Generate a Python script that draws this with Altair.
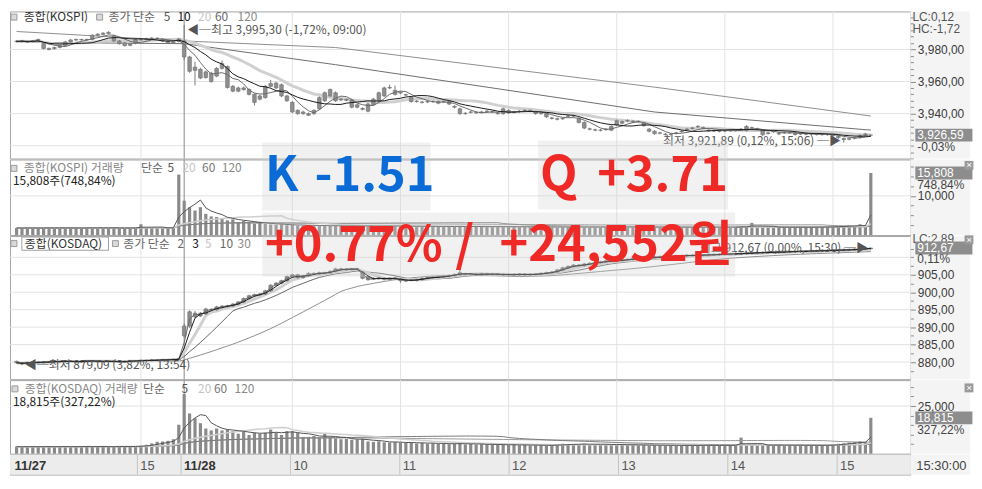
import altair as alt
import pandas as pd

# ------------------------------------------------------------------ data
# bar index: 0 = 11/27 13:51 (3-minute bars), 31 = 11/28 09:00, 158 = 11/28 15:30
tick_idx = [0, 23, 31, 51, 71, 91, 111, 131, 151]
tick_labels = ["11/27", "15", "11/28", "10", "11", "12", "13", "14", "15"]

kospi_open = [
    3985.2, 3985.0, 3984.6, 3985.0, 3985.4, 3983.6, 3980.6, 3980.5, 3981.3, 3982.5,
    3984.7, 3985.9, 3986.0, 3986.2, 3986.3, 3988.8, 3989.4, 3990.0, 3988.3, 3985.3,
    3984.1, 3982.6, 3983.8, 3986.0, 3986.2, 3986.6, 3987.0, 3986.4, 3985.2, 3984.2,
    3985.0, 3985.3, 3975.3, 3967.0, 3967.6, 3962.5, 3965.2, 3963.4, 3968.2, 3969.3,
    3957.0, 3954.0, 3956.0, 3955.0, 3952.0, 3949.0, 3950.0, 3957.0, 3959.0, 3958.0,
    3951.0, 3947.0, 3942.0, 3940.0, 3940.0, 3940.0, 3943.0, 3948.0, 3951.0, 3953.0,
    3949.0, 3948.8, 3948.5, 3945.5, 3943.2, 3941.5, 3945.5, 3948.0, 3951.0, 3956.0,
    3954.5, 3953.2, 3951.8, 3950.0, 3947.8, 3947.2, 3947.3, 3947.6, 3947.5, 3947.3,
    3947.5, 3944.5, 3943.0, 3940.2, 3940.8, 3940.7, 3940.8, 3941.3, 3941.2, 3940.3,
    3940.0, 3942.0, 3940.8, 3941.3, 3941.8, 3942.0, 3941.0, 3940.2, 3940.0, 3937.3,
    3936.8, 3936.8, 3938.3, 3938.6, 3937.0, 3934.5, 3930.5, 3929.9, 3929.6, 3930.0,
    3929.7, 3933.0, 3935.0, 3935.4, 3935.2, 3935.1, 3934.0, 3930.3, 3929.0, 3927.8,
    3927.2, 3927.1, 3927.8, 3928.8, 3930.0, 3930.8, 3931.8, 3931.2, 3929.6, 3929.2,
    3929.2, 3929.1, 3929.4, 3929.6, 3930.0, 3929.5, 3931.2, 3930.5, 3929.7, 3927.6,
    3928.7, 3927.5, 3928.2, 3928.1, 3928.0, 3927.4, 3927.2, 3927.4, 3927.1, 3927.1,
    3926.9, 3926.6, 3925.8, 3924.5, 3924.0, 3924.6, 3925.2, 3926.5, 3926.59]
kospi_close = [
    3985.0, 3985.3, 3984.7, 3985.3, 3986.2, 3980.6, 3980.0, 3981.2, 3982.4, 3984.7,
    3985.9, 3986.2, 3986.2, 3986.0, 3988.9, 3989.5, 3990.1, 3990.7, 3985.3, 3983.6,
    3982.4, 3983.6, 3986.2, 3986.2, 3986.8, 3987.1, 3986.8, 3985.3, 3984.1, 3984.7,
    3986.5, 3975.3, 3966.4, 3969.0, 3962.2, 3966.0, 3960.0, 3968.2, 3971.1, 3956.3,
    3954.0, 3956.0, 3955.0, 3952.0, 3947.0, 3951.0, 3957.0, 3958.7, 3956.0, 3951.0,
    3948.0, 3941.0, 3940.0, 3941.0, 3939.0, 3942.0, 3950.0, 3953.0, 3955.0, 3948.0,
    3948.5, 3948.4, 3944.0, 3944.0, 3942.7, 3946.0, 3949.0, 3953.0, 3956.0, 3956.3,
    3952.0, 3952.8, 3951.6, 3947.5, 3947.5, 3947.0, 3947.5, 3947.5, 3946.5, 3947.5,
    3946.0, 3944.0, 3940.0, 3940.0, 3941.0, 3940.5, 3941.0, 3941.5, 3941.0, 3940.0,
    3943.0, 3940.5, 3941.0, 3941.5, 3942.0, 3941.5, 3940.0, 3940.0, 3938.0, 3937.0,
    3936.5, 3937.0, 3938.5, 3938.5, 3934.5, 3931.0, 3930.3, 3929.7, 3929.7, 3930.3,
    3932.0, 3935.5, 3934.0, 3935.6, 3935.0, 3935.0, 3932.5, 3929.0, 3927.5, 3928.0,
    3927.0, 3927.0, 3928.0, 3929.0, 3930.3, 3931.0, 3932.0, 3931.0, 3929.3, 3929.3,
    3929.0, 3929.3, 3929.5, 3929.5, 3930.3, 3932.0, 3931.0, 3930.3, 3926.8, 3928.0,
    3929.0, 3927.3, 3928.3, 3928.0, 3927.0, 3927.3, 3927.3, 3927.3, 3927.0, 3926.9,
    3927.0, 3926.3, 3925.0, 3923.8, 3924.4, 3925.0, 3926.3, 3927.3, 3926.59]
kospi_high = [
    3985.8, 3985.9, 3985.4, 3985.9, 3986.8, 3984.4, 3981.2, 3981.8, 3983.0, 3985.3,
    3986.5, 3986.8, 3986.7, 3986.8, 3989.4, 3990.1, 3990.8, 3991.3, 3988.9, 3985.9,
    3984.7, 3984.2, 3986.8, 3986.9, 3987.3, 3987.7, 3987.6, 3987.0, 3985.8, 3985.3,
    3987.1, 3995.3, 3976.0, 3972.3, 3968.5, 3966.8, 3966.0, 3969.0, 3973.0, 3970.0,
    3957.8, 3956.8, 3956.9, 3955.8, 3952.7, 3951.8, 3957.8, 3961.0, 3959.8, 3958.8,
    3951.7, 3947.8, 3942.7, 3941.8, 3940.7, 3942.8, 3950.8, 3953.8, 3955.7, 3953.8,
    3949.7, 3949.5, 3949.2, 3946.2, 3943.9, 3946.8, 3949.7, 3953.7, 3956.8, 3958.0,
    3957.5, 3953.9, 3952.4, 3950.7, 3948.5, 3947.9, 3948.2, 3948.3, 3948.2, 3948.2,
    3948.1, 3945.2, 3943.7, 3940.9, 3941.7, 3941.4, 3941.7, 3942.2, 3941.9, 3941.0,
    3943.7, 3942.7, 3941.7, 3942.2, 3942.7, 3942.6, 3941.7, 3940.9, 3940.7, 3938.0,
    3937.5, 3937.7, 3939.2, 3939.3, 3937.7, 3935.2, 3931.2, 3930.6, 3930.4, 3931.0,
    3932.7, 3936.3, 3935.7, 3936.4, 3935.9, 3935.8, 3934.7, 3931.0, 3929.7, 3928.7,
    3927.9, 3927.8, 3928.7, 3929.7, 3931.0, 3931.7, 3932.8, 3931.9, 3930.3, 3930.0,
    3929.9, 3930.0, 3930.2, 3930.3, 3931.0, 3932.8, 3931.9, 3931.2, 3930.4, 3928.7,
    3929.7, 3928.2, 3929.0, 3928.8, 3928.7, 3928.1, 3928.0, 3928.1, 3927.8, 3927.8,
    3927.7, 3927.3, 3926.5, 3925.2, 3925.1, 3925.7, 3927.0, 3928.0, 3926.8]
kospi_low = [
    3984.4, 3984.4, 3984.0, 3984.4, 3984.8, 3979.9, 3979.4, 3979.9, 3980.7, 3981.9,
    3984.1, 3985.3, 3985.4, 3985.4, 3985.7, 3988.2, 3988.8, 3989.4, 3984.6, 3983.0,
    3981.8, 3982.0, 3983.2, 3985.4, 3985.6, 3986.0, 3986.2, 3984.7, 3983.5, 3983.6,
    3984.4, 3973.5, 3965.5, 3957.5, 3961.5, 3961.8, 3959.3, 3962.7, 3967.5, 3955.6,
    3953.3, 3953.3, 3954.3, 3951.3, 3945.0, 3948.3, 3949.3, 3956.3, 3955.3, 3950.3,
    3947.3, 3940.3, 3939.3, 3939.3, 3938.5, 3939.3, 3942.3, 3947.3, 3950.3, 3947.3,
    3947.8, 3947.7, 3943.3, 3943.3, 3942.0, 3940.8, 3944.8, 3947.3, 3950.3, 3955.3,
    3951.3, 3952.1, 3950.9, 3946.8, 3946.8, 3946.3, 3946.6, 3946.8, 3945.8, 3946.6,
    3945.3, 3943.3, 3939.3, 3939.3, 3940.1, 3939.8, 3940.1, 3940.6, 3940.3, 3939.3,
    3939.3, 3939.8, 3940.1, 3940.6, 3941.1, 3940.8, 3939.3, 3939.3, 3937.3, 3936.3,
    3935.8, 3936.1, 3937.6, 3937.8, 3933.8, 3930.3, 3929.6, 3929.0, 3928.9, 3929.3,
    3929.0, 3932.3, 3933.3, 3934.7, 3934.3, 3934.3, 3931.8, 3928.3, 3926.8, 3927.1,
    3926.3, 3926.3, 3927.1, 3928.1, 3929.3, 3930.1, 3931.1, 3930.3, 3928.6, 3928.5,
    3928.3, 3928.4, 3928.7, 3928.8, 3929.3, 3928.8, 3930.3, 3929.6, 3926.1, 3926.9,
    3928.0, 3926.6, 3927.5, 3927.3, 3926.3, 3926.6, 3926.5, 3926.6, 3926.3, 3926.2,
    3926.2, 3925.6, 3924.3, 3921.89, 3923.3, 3923.9, 3924.5, 3925.8, 3926.4]
kospi_vol = [
    1800, 1750, 1850, 1800, 1700, 1900, 1850, 1800, 1750, 1800,
    1850, 1800, 1750, 1800, 1900, 1850, 1800, 1750, 1850, 1800,
    1750, 1800, 1850, 2750, 1850, 1800, 1900, 1850, 1800, 1900,
    15400, 8750, 7100, 6250, 7100, 5400, 4750, 4600, 4200, 3750,
    4000, 3300, 3600, 3300, 2900, 3100, 2900, 2700, 2600, 2750,
    2500, 2600, 2450, 2500, 2400, 2450, 2350, 2400, 2300, 2400,
    2350, 2300, 2400, 2250, 2300, 2350, 2250, 2300, 2400, 2250,
    2300, 2200, 2250, 2300, 2200, 2150, 2250, 2200, 2150, 2200,
    2150, 2200, 2250, 2150, 2100, 2200, 2150, 2100, 2150, 2100,
    2150, 2100, 2050, 2100, 2150, 2050, 2100, 2050, 2100, 2050,
    2000, 2100, 2050, 2000, 2100, 2050, 2000, 2050, 2000, 2100,
    2050, 2000, 2050, 2100, 2000, 2050, 2000, 2050, 2000, 2050,
    2000, 2050, 1950, 2000, 2050, 2000, 1950, 2000, 2050, 2000,
    1950, 2000, 2050, 2000, 2300, 2050, 3100, 2050, 2000, 2050,
    2000, 2050, 2000, 1950, 2000, 2050, 2000, 2050, 2000, 2050,
    2100, 2200, 2300, 2250, 2400, 2300, 2750, 2350, 15808]
# long moving averages of KOSPI at a few bars
kospi_ma_idx = [0, 31, 59, 118, 158]
kospi_ma60 = [3984.5, 3983.6, 3970.5, 3941.0, 3929.7]
kospi_ma120 = [3991.2, 3985.3, 3981.2, 3956.5, 3938.5]

kosdaq_open = [
    880.2, 879.8, 879.6, 879.9, 880.0, 879.8, 880.1, 880.0, 880.2, 880.1,
    880.3, 880.2, 880.0, 880.2, 880.4, 880.3, 880.1, 880.2, 880.3, 880.1,
    880.0, 880.2, 880.4, 880.3, 880.5, 880.4, 880.6, 880.5, 880.7, 880.6,
    880.8, 887.5, 890.3, 894.0, 893.2, 893.8, 895.1, 895.0, 895.8, 895.9,
    896.1, 896.6, 897.2, 898.2, 899.0, 899.3, 899.5, 900.4, 902.0, 902.6,
    903.3, 904.5, 905.0, 904.2, 904.7, 905.4, 905.2, 905.6, 905.5, 906.0,
    906.7, 906.4, 906.6, 906.7, 905.8, 904.5, 903.8, 903.9, 904.0, 903.7,
    904.1, 903.8, 903.2, 903.4, 903.4, 903.6, 904.0, 904.2, 904.3, 904.4,
    904.6, 904.8, 905.0, 905.3, 905.1, 905.2, 905.0, 905.3, 905.1, 905.2,
    905.1, 905.0, 905.1, 905.0, 905.2, 905.0, 905.1, 905.2, 905.4, 905.6,
    905.8, 906.4, 907.0, 907.4, 907.8, 907.6, 908.1, 908.3, 908.5, 908.7,
    909.0, 908.9, 909.1, 909.3, 909.4, 909.6, 909.5, 909.9, 909.8, 910.2,
    910.0, 910.3, 910.2, 910.5, 910.4, 910.6, 910.5, 910.7, 910.6, 910.8,
    910.7, 910.9, 911.0, 910.9, 911.1, 911.0, 911.3, 911.2, 911.4, 911.3,
    911.5, 911.4, 911.6, 911.5, 911.7, 911.6, 911.8, 911.7, 911.9, 911.8,
    912.0, 911.9, 912.1, 912.0, 912.2, 912.1, 912.3, 912.4, 912.5]
kosdaq_close = [
    879.8, 879.5, 879.9, 880.0, 879.8, 880.1, 880.0, 880.2, 880.1, 880.3,
    880.2, 880.0, 880.2, 880.4, 880.3, 880.1, 880.2, 880.3, 880.1, 880.0,
    880.2, 880.4, 880.3, 880.5, 880.4, 880.6, 880.5, 880.7, 880.6, 880.8,
    880.9, 890.3, 894.4, 893.0, 894.0, 895.2, 894.9, 895.8, 896.0, 896.1,
    896.6, 897.2, 898.2, 899.0, 899.3, 899.5, 900.4, 902.0, 902.6, 903.3,
    904.5, 905.0, 904.2, 904.7, 905.4, 905.2, 905.6, 905.5, 906.0, 906.7,
    906.5, 906.6, 906.7, 906.5, 904.0, 903.6, 904.0, 904.1, 903.7, 904.0,
    903.9, 903.3, 903.4, 903.5, 903.6, 904.0, 904.2, 904.3, 904.4, 904.6,
    904.8, 905.1, 905.6, 905.1, 905.2, 905.0, 905.3, 905.1, 905.2, 905.1,
    905.0, 905.1, 905.0, 905.2, 905.0, 905.1, 905.2, 905.4, 905.6, 905.8,
    906.4, 907.0, 907.4, 907.8, 907.6, 908.1, 908.3, 908.5, 908.7, 909.0,
    908.9, 909.1, 909.3, 909.4, 909.6, 909.5, 909.9, 909.8, 910.2, 910.0,
    910.3, 910.2, 910.5, 910.4, 910.6, 910.5, 910.7, 910.6, 910.8, 910.7,
    910.9, 911.0, 910.9, 911.1, 911.0, 911.3, 911.2, 911.4, 911.3, 911.5,
    911.4, 911.6, 911.5, 911.7, 911.6, 911.8, 911.7, 911.9, 911.8, 912.0,
    911.9, 912.1, 912.0, 912.2, 912.1, 912.3, 912.4, 912.5, 912.67]
kosdaq_high = [
    880.4, 880.0, 880.1, 880.2, 880.2, 880.3, 880.3, 880.4, 880.4, 880.5,
    880.5, 880.4, 880.4, 880.6, 880.6, 880.5, 880.4, 880.5, 880.5, 880.3,
    880.4, 880.6, 880.6, 880.7, 880.7, 880.8, 880.8, 880.9, 880.9, 881.0,
    881.1, 891.0, 894.8, 894.6, 894.3, 895.5, 895.4, 896.1, 896.3, 896.4,
    896.9, 897.5, 898.5, 899.3, 899.6, 899.8, 900.7, 902.3, 902.9, 903.6,
    904.8, 905.3, 905.3, 905.0, 905.7, 905.7, 905.9, 905.9, 906.3, 907.0,
    907.0, 906.9, 907.0, 907.0, 906.1, 904.8, 904.3, 904.4, 904.3, 904.3,
    904.4, 904.1, 903.7, 903.8, 903.9, 904.3, 904.5, 904.6, 904.7, 904.9,
    905.1, 905.4, 906.5, 905.6, 905.5, 905.5, 905.6, 905.6, 905.5, 905.5,
    905.4, 905.4, 905.4, 905.5, 905.5, 905.4, 905.5, 905.7, 905.9, 906.1,
    906.7, 907.3, 907.7, 908.1, 908.1, 908.4, 908.6, 908.8, 909.0, 909.3,
    909.3, 909.4, 909.6, 909.7, 909.9, 909.9, 910.2, 910.2, 910.5, 910.5,
    910.6, 910.6, 910.8, 910.8, 910.9, 910.9, 911.0, 911.0, 911.1, 911.1,
    911.2, 911.3, 911.3, 911.4, 911.4, 911.6, 911.6, 911.7, 911.7, 911.8,
    911.8, 911.9, 911.9, 912.0, 912.0, 912.1, 912.1, 912.2, 912.2, 912.3,
    912.3, 912.4, 912.4, 912.5, 912.5, 912.6, 912.6, 912.6, 912.67]
kosdaq_low = [
    879.6, 879.09, 879.4, 879.7, 879.6, 879.6, 879.8, 879.8, 879.9, 879.9,
    880.0, 879.8, 879.8, 880.0, 880.1, 879.9, 879.9, 880.0, 879.9, 879.8,
    879.8, 880.0, 880.1, 880.1, 880.2, 880.2, 880.3, 880.3, 880.4, 880.4,
    880.6, 887.0, 889.8, 892.6, 892.9, 893.5, 894.6, 894.7, 895.5, 895.6,
    895.8, 896.3, 896.9, 897.9, 898.7, 899.0, 899.2, 900.1, 901.7, 902.3,
    903.0, 904.2, 903.9, 903.9, 904.4, 904.9, 904.9, 905.2, 905.2, 905.7,
    906.2, 906.1, 906.3, 906.2, 903.7, 903.3, 903.5, 903.6, 903.4, 903.4,
    903.6, 902.7, 902.9, 903.1, 903.1, 903.3, 903.7, 903.9, 904.0, 904.1,
    904.3, 904.5, 904.7, 904.8, 904.8, 904.7, 904.7, 904.8, 904.8, 904.8,
    904.7, 904.7, 904.7, 904.7, 904.7, 904.7, 904.8, 904.9, 905.1, 905.3,
    905.5, 906.1, 906.7, 907.1, 907.3, 907.3, 907.8, 908.0, 908.2, 908.4,
    908.6, 908.6, 908.8, 909.0, 909.1, 909.2, 909.2, 909.5, 909.5, 909.7,
    909.7, 909.9, 909.9, 910.1, 910.1, 910.2, 910.2, 910.3, 910.3, 910.4,
    910.4, 910.6, 910.6, 910.6, 910.7, 910.7, 910.9, 910.9, 911.0, 911.0,
    911.1, 911.1, 911.2, 911.2, 911.3, 911.3, 911.4, 911.4, 911.5, 911.5,
    911.6, 911.6, 911.7, 911.7, 911.8, 911.8, 912.0, 912.1, 912.2]
kosdaq_vol = [
    3700, 3600, 3800, 3700, 3500, 3900, 3700, 3600, 3800, 3700,
    3600, 3800, 3700, 3900, 3600, 3700, 3800, 3600, 3700, 3900,
    3800, 3700, 3900, 4200, 4700, 5400, 6250, 6400, 6750, 7600,
    15200, 31300, 21100, 18600, 16000, 13200, 12200, 13200, 12200, 12700,
    11800, 10500, 11800, 9800, 11000, 10500, 11000, 12700, 11000, 9800,
    11800, 11800, 11000, 8800, 8800, 9300, 8450, 10500, 8800, 8000,
    7600, 7800, 7300, 7500, 7900, 6400, 6200, 6500, 6000, 5900,
    6100, 5800, 5600, 5900, 5400, 5700, 5300, 5500, 5100, 5400,
    5000, 5200, 5600, 4900, 5100, 4800, 5000, 4700, 4900, 4600,
    4700, 4500, 4800, 4400, 4600, 4300, 4500, 4400, 4200, 4500,
    4800, 5200, 4900, 5100, 4700, 5300, 5000, 4800, 5000, 4700,
    4900, 4600, 4800, 4500, 4700, 4400, 4600, 4300, 4500, 4400,
    4300, 4500, 4200, 4400, 4300, 4500, 4200, 4600, 4300, 4400,
    4200, 4500, 4300, 4600, 8450, 4400, 4700, 4300, 4500, 4600,
    4400, 4700, 4300, 4500, 4400, 4600, 4300, 4500, 4200, 4400,
    4600, 4800, 5200, 5500, 5900, 6100, 6400, 6000, 18815]

# texts shown on the chart
kospi_hi_text = "◀─최고 3,995,30 (-1,72%, 09:00)"
kospi_lo_text = "최저 3,921,89 (0,12%, 15:06) ─▶"
kosdaq_lo_text = "◀─최저 879,09 (3,82%, 13:54)"
kosdaq_hi_text = "최고 912,67 (0,00%, 15:30) ─▶"
kospi_vol_text = "15,808주(748,84%)"
kosdaq_vol_text = "18,815주(327,22%)"
kospi_side = ["LC:0,12", "HC:-1,72", "-0,03%"]
kospi_vol_side = "748,84%"
kosdaq_side = ["LC:2,89", "0,11%"]
kosdaq_vol_side = "327,22%"
overlay_k = ["K", "-1.51"]
overlay_q = ["Q", "+3.71"]
overlay_sum = ["+0.77%", "/", "+24,552원"]

# ------------------------------------------------------------------ layout
W = 906
H1, H2, H3, H4, HS = 148, 76, 144, 74, 20
SP = 1
TOP3 = H1 + SP + H2 + SP

LAT = "Liberation Sans, Arial, Noto Sans CJK KR, sans-serif"
KOR = "Noto Sans CJK KR, Noto Sans, sans-serif"
BLUE = "#0b6bd6"
RED = "#ef2a26"
BIG = 49
ONE = pd.DataFrame({"k": [0]})


def xr(rx):
    return round((rx - 2) * W / 914, 1)


def ry1(ry):
    return round((ry - 2) * H1 / 155, 1)


def ry2(ry):
    return round((ry - 158) * H2 / 77, 1)


def ry3(ry):
    return round((ry - 237) * H3 / 151, 1)


def ry4(ry):
    return round((ry - 392) * H4 / 76, 1)


def ov(ry):
    if ry < 157.5:
        return round(ry1(ry) - TOP3, 1)
    if ry < 236.5:
        return round(H1 + SP + ry2(ry) - TOP3, 1)
    return ry3(ry)


XS = alt.Scale(domain=[-0.3, 164.4], nice=False, zero=False)


def X():
    return alt.X("i:Q", scale=XS, axis=None)


def txt(x, y, s, color="#555", size=12, weight="normal", align="left", font=KOR, baseline="middle"):
    return alt.Chart(ONE).mark_text(
        align=align, baseline=baseline, font=font, fontSize=size, fontWeight=weight, color=color
    ).encode(x=alt.value(x), y=alt.value(y), text=alt.value(s))


def box(x1, x2, y1, y2, fill, opacity=1.0, stroke=None):
    kw = dict(fill=fill, opacity=opacity)
    if stroke:
        kw.update(stroke=stroke, strokeWidth=1)
    return alt.Chart(ONE).mark_rect(**kw).encode(
        x=alt.value(x1), x2=alt.value(x2), y=alt.value(y1), y2=alt.value(y2))


def yaxis(vals, major_test, expr):
    # every value gets a tick; only the major ones get a label and a long tick
    return alt.Axis(orient="right", values=vals,
                    labelExpr=f"({major_test}) ? {expr} : ''",
                    grid=False, domain=False, ticks=True, tickColor="#8a8a8a",
                    tickSize={"condition": {"test": major_test, "value": 5}, "value": 3},
                    labelFont=LAT, labelFontSize=12, labelColor="#3a3a3a", labelPadding=2,
                    labelOverlap=False, title=None, zindex=1)


def make_Y(scale, axis):
    def f(field):
        return alt.Y(f"{field}:Q", scale=scale, axis=axis)
    return f


def frame_layers(H, gridvals, Yf):
    vdf = pd.DataFrame({"i": tick_idx, "lab": tick_labels})
    bg = box(W, W + 60, 0, H, "#f4f4f4")
    hg = alt.Chart(pd.DataFrame({"g": gridvals})).mark_rule(color="#e3e3e3").encode(y=Yf("g"))
    vlight = alt.Chart(vdf).transform_filter(
        "datum.i > 0 && indexof(datum.lab, '/') < 0").mark_rule(color="#e3e3e3").encode(x=X())
    vday = alt.Chart(vdf).transform_filter(
        "datum.i > 0 && indexof(datum.lab, '/') >= 0").mark_rule(color="#8a8a8a").encode(x=X())
    return [bg, hg, vlight, vday]


def candles(df, Yf):
    wick = alt.Chart(df).mark_rule(color="#7a7a7a", strokeWidth=1).encode(
        x=X(), y=Yf("l"), y2=alt.Y2("h"))
    body = alt.Chart(df).mark_bar(size=3.6, fill="#8e8e8e", stroke="#777777", strokeWidth=0.7).encode(
        x=X(), y=Yf("o"), y2=alt.Y2("c"))
    return [wick, body]


def ma_line(df, field, p, color, sw, Yf):
    return alt.Chart(df).transform_window(
        **{f"m{p}": f"mean({field})"}, frame=[-(p - 1), 0], sort=[alt.SortField("i")]
    ).mark_line(color=color, strokeWidth=sw).encode(x=X(), y=Yf(f"m{p}"))


def anno(i, v, s, Yf, align, dx, dy=0):
    d = pd.DataFrame({"i": [i], "v": [v], "s": [s]})
    return alt.Chart(d).mark_text(align=align, baseline="middle", dx=dx, dy=dy, font=KOR, fontSize=12,
                                  color="#555").encode(x=X(), y=Yf("v"), text="s:N")


def pbox(v, Yf, label, sub, subdy):
    d = pd.DataFrame({"v": [v], "s": [label], "t": [sub]})
    r = alt.Chart(d).mark_rect(fill="#8d8d8d", yOffset=-6.5, y2Offset=6.5).encode(
        x=alt.value(xr(921)), x2=alt.value(xr(979)), y=Yf("v"), y2=alt.Y2("v"))
    t = alt.Chart(d).mark_text(align="left", baseline="middle", font=LAT, fontSize=12,
                               color="white").encode(x=alt.value(xr(923)), y=Yf("v"), text="s:N")
    t2 = alt.Chart(d).mark_text(align="left", baseline="middle", dy=subdy, font=LAT, fontSize=12,
                                color="#444").encode(x=alt.value(xr(923)), y=Yf("v"), text="t:N")
    return [r, t, t2]


def header(y, pieces, squares):
    out = []
    for sx in squares:
        out.append(box(xr(sx), xr(sx) + 6, y - 3, y + 3, "#dadada", stroke="#9a9a9a"))
    for rx, s, c in pieces:
        out.append(txt(xr(rx), y, s, color=c))
    return out


def close_icon(y):
    return [box(xr(971), xr(980), y - 4.5, y + 4.5, "#9a9a9a"),
            txt(xr(975.5), y, "×", color="white", size=10, align="center", font=LAT)]


def fmt2(v):
    return f"{v:,.2f}".replace(".", ",")


PRICE_FMT = "replace(format(datum.value, ',.2f'), '.', ',')"
VOL_FMT = "format(datum.value, ',d')"

idx = list(range(len(kospi_close)))
kp = pd.DataFrame({"i": idx, "o": kospi_open, "h": kospi_high, "l": kospi_low,
                   "c": kospi_close, "v": kospi_vol})
kq = pd.DataFrame({"i": idx, "o": kosdaq_open, "h": kosdaq_high, "l": kosdaq_low,
                   "c": kosdaq_close, "v": kosdaq_vol})
kma = pd.DataFrame({"i": kospi_ma_idx, "m60": kospi_ma60, "m120": kospi_ma120})

# ------------------------------------------------------------------ panel 1: KOSPI price
Y1 = make_Y(alt.Scale(domain=[3912, 4003.7], nice=False, zero=False),
            yaxis([3912 + 4 * k for k in range(23)],
                  "datum.value % 20 == 0 && datum.value > 3930 && datum.value < 3990", PRICE_FMT))
hi_i = kospi_high.index(max(kospi_high))
lo_i = kospi_low.index(min(kospi_low))
y_h1 = ry1(8)
p1_layers = frame_layers(H1, [3920, 3940, 3960, 3980], Y1) + [
    alt.Chart(kma).mark_line(color="#8e8e8e", strokeWidth=1).encode(x=X(), y=Y1("m120")),
    alt.Chart(kma).mark_line(color="#6e6e6e", strokeWidth=1).encode(x=X(), y=Y1("m60")),
    ma_line(kp, "c", 20, "#d0d0d0", 3, Y1),
] + candles(kp, Y1) + [
    ma_line(kp, "c", 5, "#6a6a6a", 1, Y1),
    ma_line(kp, "c", 10, "#1a1a1a", 1, Y1),
    anno(hi_i, kospi_high[hi_i], kospi_hi_text, Y1, "left", 3, 5),
    anno(lo_i, kospi_low[lo_i], kospi_lo_text, Y1, "right", -3, -2),
] + header(y_h1, [(16, "종합(KOSPI)", "#333"), (102, "종가 단순", "#666"), (158, "5", "#555"),
                  (172, "10", "#111"), (193, "20", "#c4c4c4"), (210, "60", "#666"),
                  (233, "120", "#888")], [3, 90]) + [
    txt(xr(918), ry1(8), kospi_side[0], color="#555", font=LAT),
    txt(xr(918), ry1(20), kospi_side[1], color="#555", font=LAT),
] + pbox(kospi_close[-1], Y1, fmt2(kospi_close[-1]), kospi_side[2], 12)
p1 = alt.layer(*p1_layers).properties(width=W, height=H1)

# ------------------------------------------------------------------ panel 2: KOSPI volume
Y2 = make_Y(alt.Scale(domain=[0, 19250], nice=False, zero=True),
            yaxis([2500 * k for k in range(1, 8)], "datum.value == 10000", VOL_FMT))
p2_layers = frame_layers(H2, [10000], Y2) + [
    alt.Chart(kp).mark_bar(size=3.2, color="#8a8a8a").encode(x=X(), y=Y2("v")),
    ma_line(kp, "v", 120, "#9a9a9a", 1, Y2),
    ma_line(kp, "v", 60, "#7a7a7a", 1, Y2),
    ma_line(kp, "v", 20, "#cfcfcf", 1.5, Y2),
    ma_line(kp, "v", 5, "#555555", 1, Y2),
] + header(ry2(167), [(16, "종합(KOSPI) 거래량", "#888"), (135, "단순", "#666"), (162, "5", "#555"),
                      (177, "20", "#c4c4c4"), (197, "60", "#777"), (217, "120", "#888")], [3]) + [
    txt(xr(5), ry2(180), kospi_vol_text, color="#222"),
] + pbox(kospi_vol[-1], Y2, f"{kospi_vol[-1]:,d}", kospi_vol_side, 12) + close_icon(ry2(164))
p2 = alt.layer(*p2_layers).properties(width=W, height=H2)

# ------------------------------------------------------------------ panel 3: KOSDAQ price
Y3 = make_Y(alt.Scale(domain=[875.1, 916.1], nice=False, zero=False),
            yaxis([877.5 + 2.5 * k for k in range(15)],
                  "datum.value % 5 == 0 && datum.value < 908", PRICE_FMT))
qhi_i = kosdaq_high.index(max(kosdaq_high))
qlo_i = kosdaq_low.index(min(kosdaq_low))
y_h3 = ry3(245)
p3_layers = frame_layers(H3, [880, 885, 890, 895, 900, 905, 910], Y3) + [
    ma_line(kq, "c", 30, "#8e8e8e", 1, Y3),
    ma_line(kq, "c", 10, "#666666", 1, Y3),
    ma_line(kq, "c", 5, "#d0d0d0", 3, Y3),
] + candles(kq, Y3) + [
    ma_line(kq, "c", 2, "#6a6a6a", 1, Y3),
    ma_line(kq, "c", 3, "#1a1a1a", 1, Y3),
    anno(qlo_i, kosdaq_low[qlo_i], kosdaq_lo_text, Y3, "left", 3),
    anno(qhi_i, kosdaq_high[qhi_i], kosdaq_hi_text, Y3, "right", -3),
    box(xr(14), xr(102), ry3(238), ry3(252), "#ffffff", stroke="#a0a0a0"),
] + header(y_h3, [(17, "종합(KOSDAQ)", "#333"), (117, "종가 단순", "#666"), (172, "2", "#666"),
                  (187, "3", "#111"), (200, "5", "#c4c4c4"), (215, "10", "#666"),
                  (233, "30", "#888")], [3, 106]) + [
    txt(xr(918), ry3(240), kosdaq_side[0], color="#555", font=LAT),
] + pbox(kosdaq_close[-1], Y3, fmt2(kosdaq_close[-1]), kosdaq_side[1], 11) + close_icon(ry3(241)) + [
    # overlay boxes and large texts
    box(xr(258), xr(429), ov(140), ov(210), "#d2d2d2", 0.3),
    box(xr(538), xr(731), ov(138), ov(209), "#d2d2d2", 0.3),
    box(xr(258), xr(738), ov(212), ov(280), "#d2d2d2", 0.3),
    txt(xr(261), ov(190), overlay_k[0], color=BLUE, size=BIG, weight="bold", baseline="alphabetic"),
    txt(xr(311), ov(190), overlay_k[1], color=BLUE, size=BIG, weight="bold", baseline="alphabetic"),
    txt(xr(540), ov(190), overlay_q[0], color=RED, size=BIG, weight="bold", baseline="alphabetic"),
    txt(xr(598), ov(190), overlay_q[1], color=RED, size=BIG, weight="bold", baseline="alphabetic"),
    txt(xr(261), ov(263), overlay_sum[0], color=RED, size=BIG, weight="bold", baseline="alphabetic"),
    txt(xr(454), ov(263), overlay_sum[1], color=RED, size=BIG, weight="bold", baseline="alphabetic"),
    txt(xr(499), ov(263), overlay_sum[2], color=RED, size=BIG, weight="bold", baseline="alphabetic"),
]
p3 = alt.layer(*p3_layers).properties(width=W, height=H3)

# ------------------------------------------------------------------ panel 4: KOSDAQ volume
Y4 = make_Y(alt.Scale(domain=[0, 38600], nice=False, zero=True),
            yaxis([5000 * k for k in range(1, 8)], "datum.value == 25000", VOL_FMT))
p4_layers = frame_layers(H4, [25000], Y4) + [
    alt.Chart(kq).mark_bar(size=3.2, color="#8a8a8a").encode(x=X(), y=Y4("v")),
    ma_line(kq, "v", 120, "#9a9a9a", 1, Y4),
    ma_line(kq, "v", 60, "#7a7a7a", 1, Y4),
    ma_line(kq, "v", 20, "#cfcfcf", 1.5, Y4),
    ma_line(kq, "v", 5, "#555555", 1, Y4),
] + header(ry4(401), [(17, "종합(KOSDAQ) 거래량", "#888"), (137, "단순", "#666"), (176, "5", "#555"),
                      (193, "20", "#c4c4c4"), (209, "60", "#777"), (230, "120", "#888")], [4]) + [
    txt(xr(5), ry4(415), kosdaq_vol_text, color="#222"),
] + pbox(kosdaq_vol[-1], Y4, f"{kosdaq_vol[-1]:,d}", kosdaq_vol_side, 12) + close_icon(ry4(400))
p4 = alt.layer(*p4_layers).properties(width=W, height=H4)

# ------------------------------------------------------------------ time strip
sdf = pd.DataFrame({"i": tick_idx, "lab": tick_labels})
strip = alt.layer(
    box(0, W, 0, HS, "#ececec"),
    box(W, W + 60, 0, HS, "#f4f4f4"),
    alt.Chart(sdf).transform_filter("datum.i > 0").mark_rule(color="#c4c4c4").encode(x=X()),
    alt.Chart(sdf).transform_filter("indexof(datum.lab, '/') < 0").mark_text(
        align="left", baseline="middle", dx=3, font=LAT, fontSize=13, color="#555"
    ).encode(x=X(), y=alt.value(HS / 2 + 1), text="lab:N"),
    alt.Chart(sdf).transform_filter("indexof(datum.lab, '/') >= 0").mark_text(
        align="left", baseline="middle", dx=3, font=LAT, fontSize=13, fontWeight="bold", color="#333"
    ).encode(x=X(), y=alt.value(HS / 2 + 1), text="lab:N"),
    txt(xr(922), HS / 2 + 1, "15:30:00", color="#444", size=13, font=LAT),
).properties(width=W, height=HS)

chart = alt.vconcat(p1, p2, p3, p4, strip, spacing=SP, bounds="flush").configure_view(
    stroke="#a5a5a5", strokeWidth=1
).properties(padding={"left": 1, "top": 1, "right": 0, "bottom": 0})

chart.save("out.html", embed_options={"renderer": "svg", "actions": False})
